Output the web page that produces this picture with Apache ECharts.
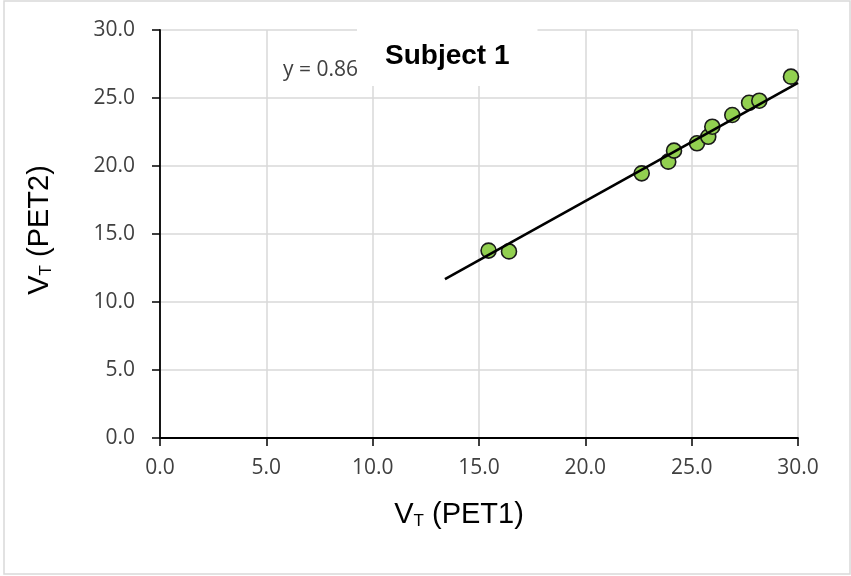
<!DOCTYPE html>
<html>
<head>
<meta charset="utf-8">
<script src="https://cdn.jsdelivr.net/npm/echarts@6/dist/echarts.min.js"></script>
<style>
html,body{margin:0;padding:0;background:#fff;}
#chart{width:851px;height:576px;}
</style>
</head>
<body>
<div id="chart"></div>
<script>
// Data
var pet1 = [15.45, 16.41, 22.65, 23.90, 24.17, 25.25, 25.78, 25.97, 26.91, 27.70, 28.18, 29.67];
var pet2 = [13.78, 13.72, 19.46, 20.32, 21.13, 21.67, 22.15, 22.89, 23.75, 24.65, 24.80, 26.57];
var trendX = [13.4, 30.0];
var trendY = [11.69, 26.12];
var axisTicks = [0, 5, 10, 15, 20, 25, 30];
var titleText = 'Subject 1';
var equationText = 'y = 0.8693x + 0.0413';

var points = pet1.map(function (x, i) { return [x, pet2[i]]; });
var trend = trendX.map(function (x, i) { return [x, trendY[i]]; });

var tickFont = { fontFamily: 'Open Sans', fontSize: 21, color: '#404040' };

var chart = echarts.init(document.getElementById('chart'), null, { renderer: 'canvas' });
chart.setOption({
  backgroundColor: '#fff',
  animation: false,
  title: {
    text: titleText,
    left: 357, top: 29,
    backgroundColor: '#fff',
    padding: [13, 28, 16, 28],
    z: 100,
    textStyle: { fontFamily: 'Liberation Sans, Arial', fontWeight: 'bold', fontSize: 28, color: '#000' }
  },
  grid: { left: 160, right: 53, top: 30, bottom: 138 },
  xAxis: {
    type: 'value', min: axisTicks[0], max: axisTicks[axisTicks.length - 1], interval: 5,
    axisLine: { show: true, onZero: false, lineStyle: { color: '#000', width: 1.8 } },
    axisTick: { show: true, length: 8, inside: false, lineStyle: { color: '#000', width: 1.5 } },
    splitLine: { show: true, lineStyle: { color: '#d9d9d9', width: 1.5 } },
    axisLabel: Object.assign({ margin: 20, formatter: function (v) { return v.toFixed(1); } }, tickFont)
  },
  yAxis: {
    type: 'value', min: axisTicks[0], max: axisTicks[axisTicks.length - 1], interval: 5,
    axisLine: { show: true, onZero: false, lineStyle: { color: '#000', width: 1.8 } },
    axisTick: { show: true, length: 8, inside: false, lineStyle: { color: '#000', width: 1.5 } },
    splitLine: { show: true, lineStyle: { color: '#d9d9d9', width: 1.5 } },
    axisLabel: Object.assign({ margin: 25, formatter: function (v) { return v.toFixed(1); } }, tickFont)
  },
  graphic: [
    { type: 'rect', z: 0, shape: { x: 4, y: 1, width: 846, height: 573 },
      style: { fill: 'none', stroke: '#d9d9d9', lineWidth: 1.5 } },
    { type: 'text', z: 1, left: 283, top: 60,
      style: { text: equationText, font: '21px "Open Sans"', fill: '#404040' } },
    { type: 'text', z: 1, x: 459, y: 515,
      style: {
        text: '{v|V}{s|T}{v| (PET1)}',
        align: 'center', verticalAlign: 'middle',
        rich: {
          v: { fontFamily: 'Liberation Sans', fontSize: 29, color: '#000', verticalAlign: 'bottom' },
          s: { fontFamily: 'Liberation Sans', fontSize: 17, color: '#000', verticalAlign: 'bottom' }
        }
      } },
    { type: 'text', z: 1, x: 40, y: 230, rotation: Math.PI / 2,
      style: {
        text: '{v|V}{s|T}{v| (PET2)}',
        align: 'center', verticalAlign: 'middle',
        rich: {
          v: { fontFamily: 'Liberation Sans', fontSize: 29, color: '#000', verticalAlign: 'bottom' },
          s: { fontFamily: 'Liberation Sans', fontSize: 17, color: '#000', verticalAlign: 'bottom' }
        }
      } }
  ],
  series: [
    {
      type: 'scatter', data: points, symbol: 'circle', symbolSize: 15, z: 3,
      itemStyle: { color: '#92d050', borderColor: '#1a1a1a', borderWidth: 1.6, opacity: 1 }
    },
    {
      type: 'line', data: trend, symbol: 'none', z: 4,
      lineStyle: { color: '#000', width: 2.6 }
    }
  ]
});
</script>
</body>
</html>
